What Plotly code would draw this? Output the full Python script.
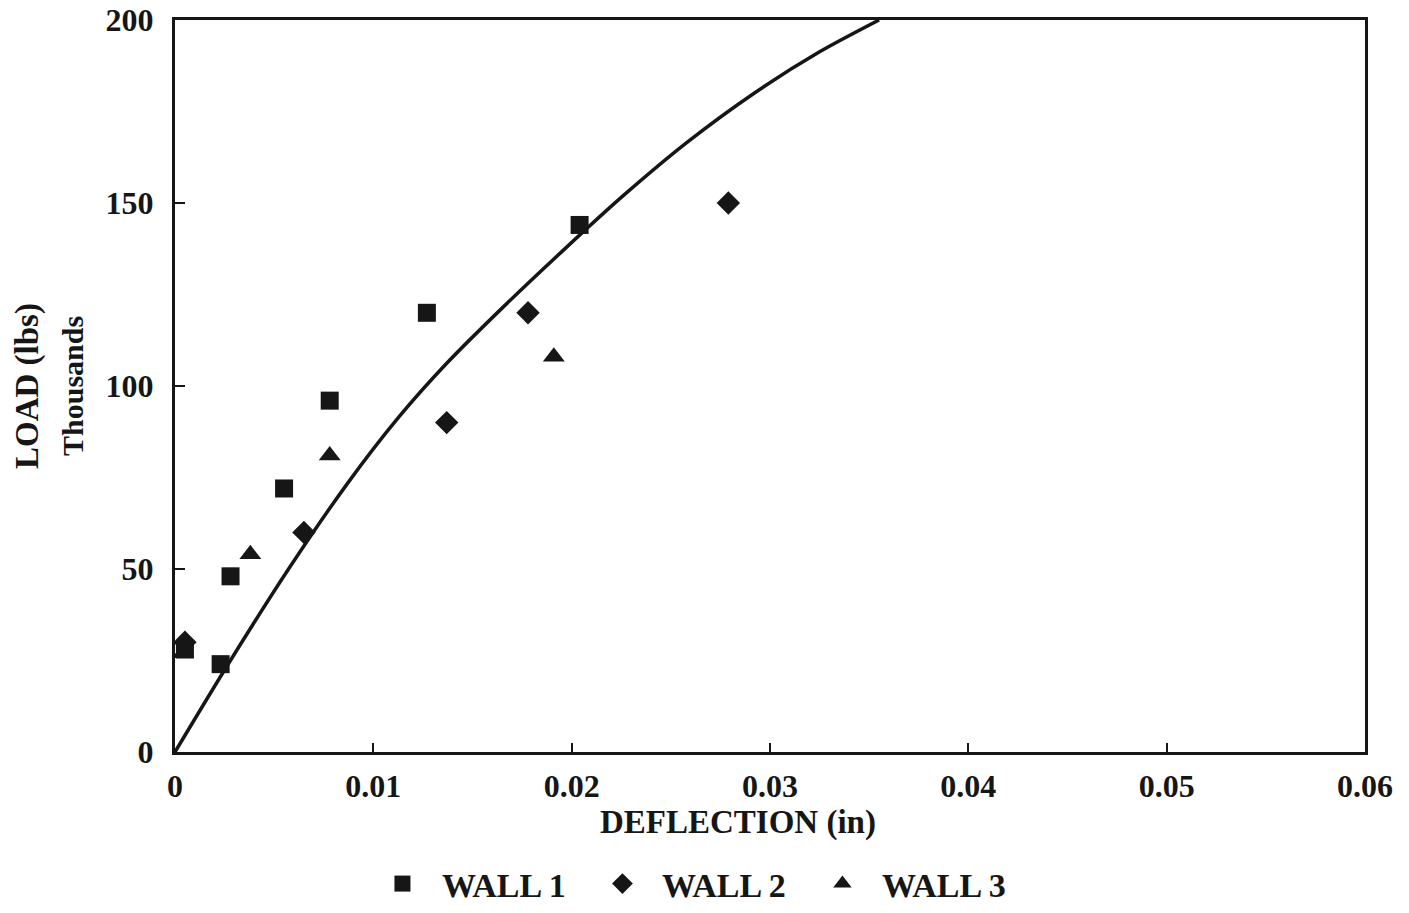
import plotly.graph_objects as go

# Data
wall1_x = [0.0005, 0.0023, 0.0028, 0.0055, 0.0078, 0.0127, 0.0204]
wall1_y = [28, 24, 48, 72, 96, 120, 144]

wall2_x = [0.0005, 0.0065, 0.0137, 0.0178, 0.0279]
wall2_y = [30, 60, 90, 120, 150]

wall3_x = [0.0004, 0.0038, 0.0078, 0.0191]
wall3_y = [27, 54, 81, 108]

curve_x = [0, 0.0026, 0.0058, 0.0087, 0.0113, 0.0137, 0.0164, 0.0196, 0.0226, 0.0258, 0.0292, 0.0325, 0.0355]
curve_y = [0, 23.3, 50.6, 73.4, 91.6, 106.2, 120.8, 137.2, 152, 166.5, 180, 191.3, 200]

x_ticks = [0, 0.01, 0.02, 0.03, 0.04, 0.05, 0.06]
x_tick_labels = ["0", "0.01", "0.02", "0.03", "0.04", "0.05", "0.06"]
y_ticks = [0, 50, 100, 150, 200]

FONT = "Liberation Serif"
INK = "#161616"

fig = go.Figure()

fig.add_trace(go.Scatter(
    x=curve_x, y=curve_y, mode="lines", line=dict(color=INK, width=3.5, shape="spline", smoothing=0.8),
    showlegend=False, hoverinfo="skip"))

fig.add_trace(go.Scatter(
    x=wall1_x, y=wall1_y, mode="markers", name="WALL 1",
    marker=dict(symbol="square", size=18, color=INK)))
fig.add_trace(go.Scatter(
    x=wall2_x, y=wall2_y, mode="markers", name="WALL 2",
    marker=dict(symbol="diamond", size=18, color=INK)))
fig.add_trace(go.Scatter(
    x=wall3_x, y=wall3_y, mode="markers", name="WALL 3",
    marker=dict(symbol="triangle-up", size=19, color=INK)))

fig.update_layout(
    width=1409, height=913,
    margin=dict(l=175, r=44, t=20, b=161, autoexpand=False),
    paper_bgcolor="white", plot_bgcolor="white",
    font=dict(family=FONT, color=INK, size=28),
    showlegend=True,
    legend=dict(orientation="h", x=0.4918, xanchor="center", xref="container",
                y=0.0318, yanchor="middle", yref="container",
                font=dict(family=FONT, size=34, color=INK, weight="bold"),
                itemwidth=69, entrywidth=136, entrywidthmode="pixels",
                bgcolor="rgba(0,0,0,0)", traceorder="normal"),
)

fig.update_xaxes(
    range=[0, 0.06], tickvals=x_ticks, ticktext=x_tick_labels,
    showgrid=False, zeroline=False, automargin=False,
    showline=True, mirror=True, linecolor=INK, linewidth=3,
    ticks="inside", ticklen=9, tickwidth=2, tickcolor=INK,
    tickfont=dict(family=FONT, size=32, color=INK, weight="bold"),
    ticklabelstandoff=4, ticklabeloverflow="allow",
)
fig.update_yaxes(
    range=[0, 200], tickvals=y_ticks,
    showgrid=False, zeroline=False, automargin=False,
    showline=True, mirror=True, linecolor=INK, linewidth=3,
    ticks="inside", ticklen=10, tickwidth=2, tickcolor=INK,
    tickfont=dict(family=FONT, size=32, color=INK, weight="bold"),
    ticklabelstandoff=12, ticklabeloverflow="allow",
)

fig.add_annotation(text="DEFLECTION (in)", xref="paper", yref="paper", x=0.473, y=0,
                   xanchor="center", yanchor="middle", yshift=-70,
                   showarrow=False, font=dict(family=FONT, size=33, color=INK, weight="bold"))
fig.add_annotation(text="LOAD (lbs)", xref="paper", yref="paper", x=0, y=0.5,
                   xanchor="center", yanchor="middle", xshift=-148, textangle=-90,
                   showarrow=False, font=dict(family=FONT, size=33, color=INK, weight="bold"))
fig.add_annotation(text="Thousands", xref="paper", yref="paper", x=0, y=0.5,
                   xanchor="center", yanchor="middle", xshift=-103, textangle=-90,
                   showarrow=False, font=dict(family=FONT, size=30, color=INK, weight="bold"))

fig.write_html("out.html",
               config={"displayModeBar": False},
               post_script="document.body.style.margin='0';document.body.style.overflow='hidden';")
